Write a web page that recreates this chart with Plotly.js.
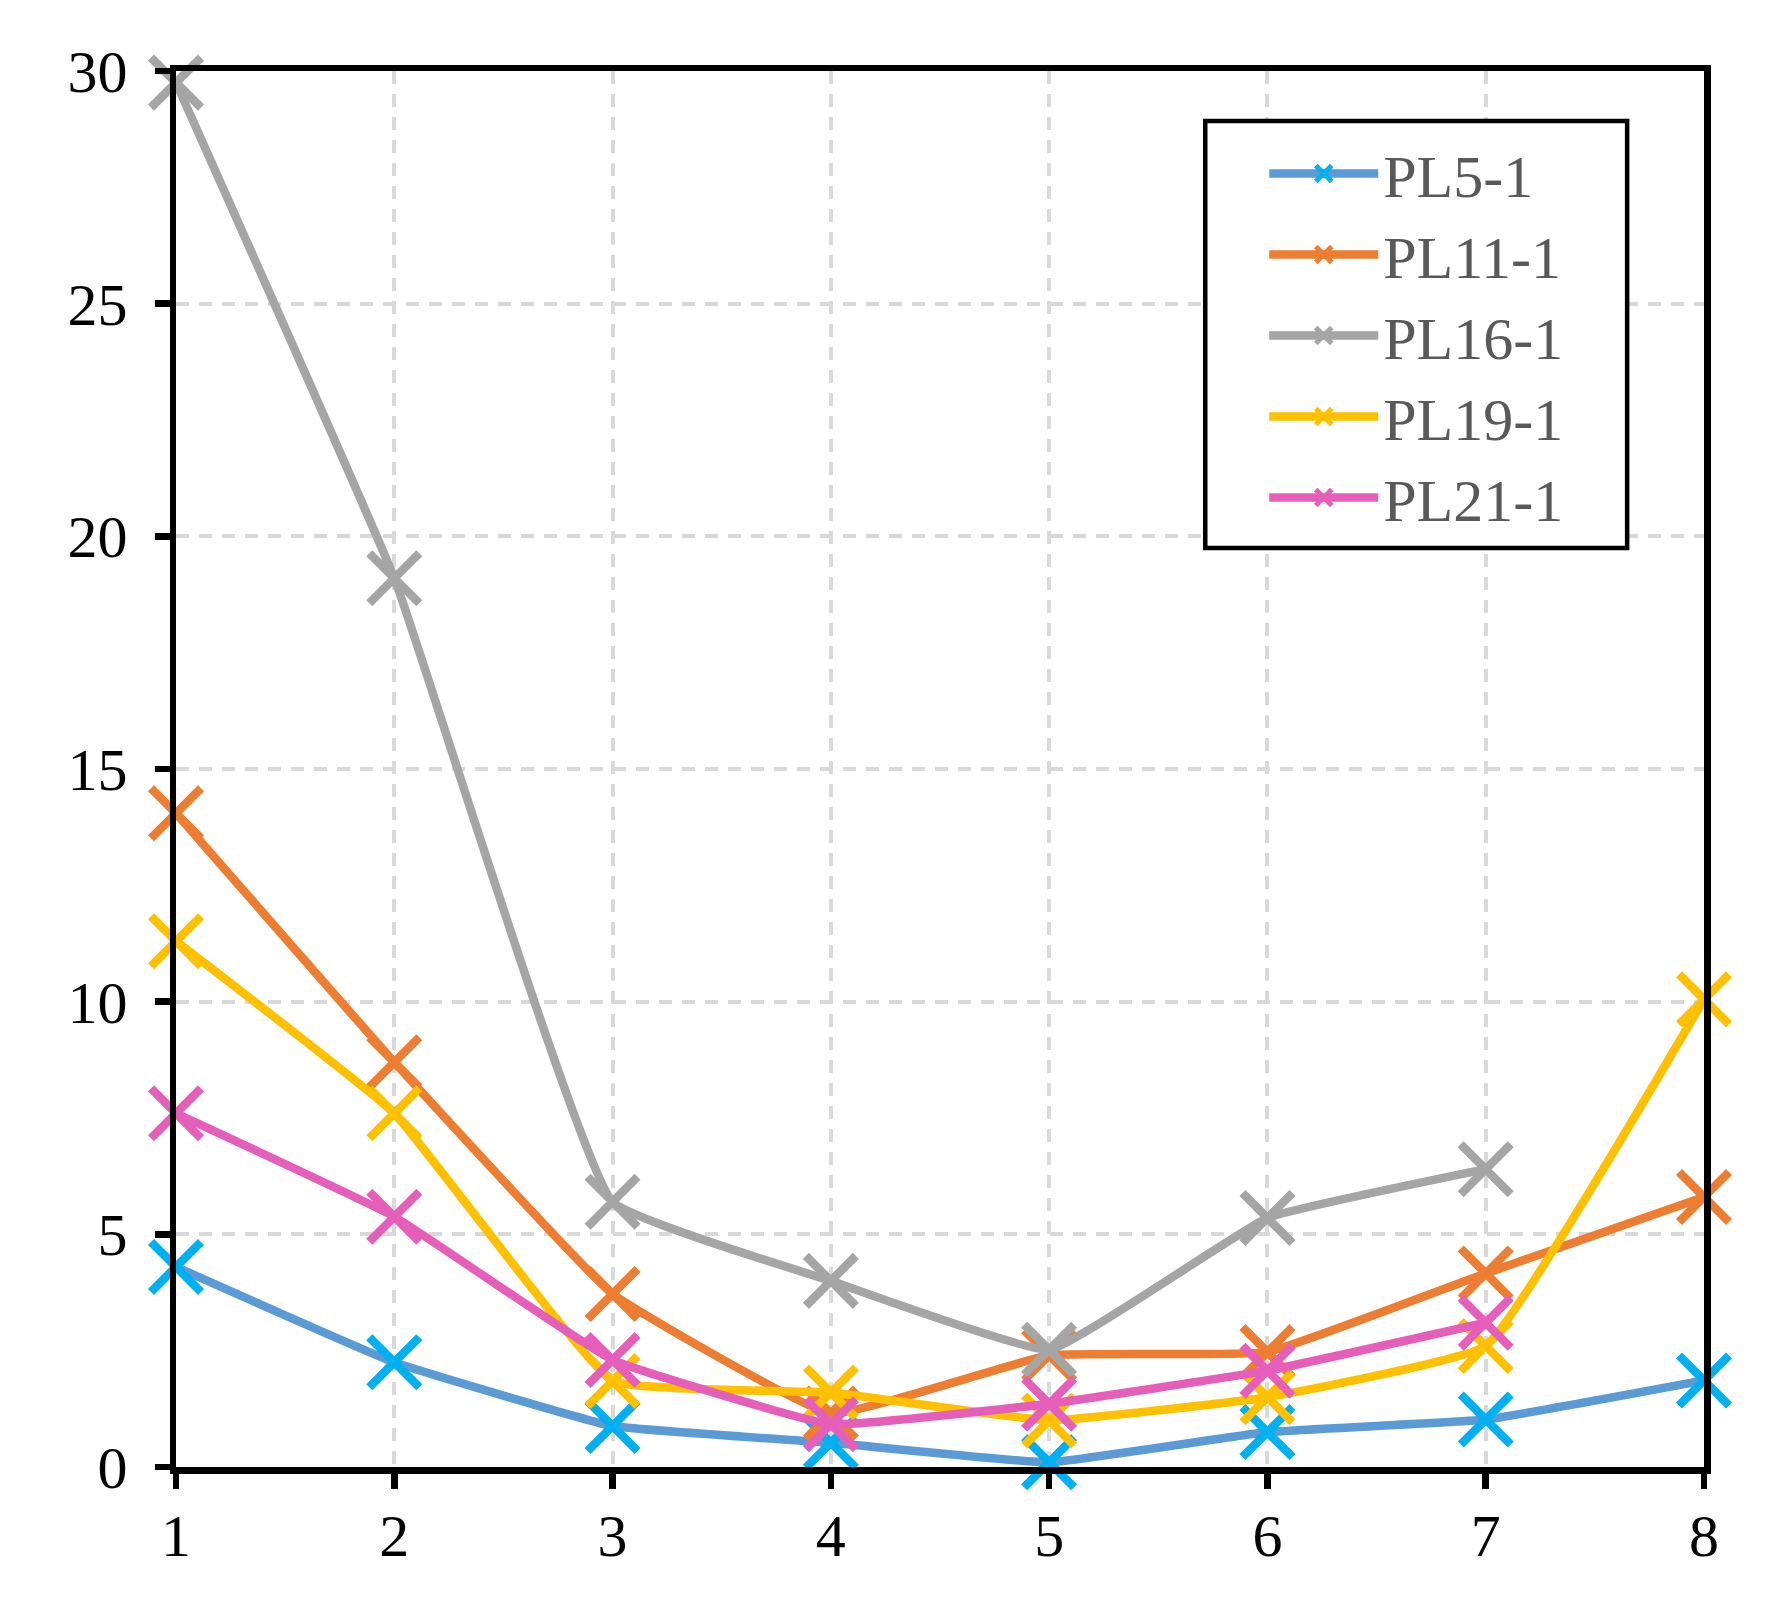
<!DOCTYPE html>
<html>
<head>
<meta charset="utf-8">
<script src="https://cdn.plot.ly/plotly-3.0.1.min.js"></script>
<style>
  html, body { margin: 0; padding: 0; background: #fff; }
  #graph { width: 1773px; height: 1602px; }
</style>
</head>
<body>
<div id="graph"></div>
<script>
const xValues = [1, 2, 3, 4, 5, 6, 7, 8]
const seriesNames = ['PL5-1', 'PL11-1', 'PL16-1', 'PL19-1', 'PL21-1']
const pl5 = [4.3, 2.25, 0.88, 0.52, 0.1, 0.75, 1.02, 1.86]
const pl11 = [14.05, 8.7, 3.72, 1.15, 2.4, 2.47, 4.16, 5.8]
const pl16 = [29.75, 19.1, 5.7, 4.0, 2.52, 5.35, 6.4, null]
const pl19 = [11.3, 7.6, 1.85, 1.6, 1.0, 1.5, 2.6, 10.05]
const pl21 = [7.6, 5.38, 2.3, 0.92, 1.36, 2.07, 3.1, null]
const yTicks = [0, 5, 10, 15, 20, 25, 30]

const lineColors = ['#5B9BD5', '#ED7D31', '#A5A5A5', '#FFC000', '#E55FBA']
const markerColors = ['#00B0F0', '#ED7D31', '#A5A5A5', '#FFC000', '#E55FBA']
const allSeries = [pl5, pl11, pl16, pl19, pl21]

const font = "'Liberation Serif', 'Times New Roman', serif"

const traces = allSeries.map(function (ys, i) {
  return {
    x: xValues,
    y: ys,
    name: seriesNames[i],
    type: 'scatter',
    mode: 'lines+markers',
    line: { color: lineColors[i], width: 8.5, shape: 'spline', smoothing: 0.3 },
    marker: {
      symbol: 'x-thin',
      size: 50,
      color: markerColors[i],
      line: { color: markerColors[i], width: 8.5 }
    },
    cliponaxis: false
  }
})

const axisStyle = {
  showline: true,
  linecolor: '#000000',
  linewidth: 6.5,
  mirror: true,
  ticks: 'outside',
  ticklen: 15,
  tickwidth: 6.5,
  tickcolor: '#000000',
  showgrid: true,
  gridcolor: '#D9D9D9',
  gridwidth: 4,
  griddash: '13px,10px',
  zeroline: false,
  tickfont: { family: font, size: 60, color: '#000000' }
}

const layout = {
  width: 1773,
  height: 1602,
  margin: { l: 176, r: 69, t: 71, b: 135 },
  paper_bgcolor: '#ffffff',
  plot_bgcolor: '#ffffff',
  font: { family: font, size: 60, color: '#000000' },
  showlegend: true,
  legend: {
    x: 0.7122,
    y: 0.9592,
    xanchor: 'left',
    yanchor: 'top',
    bgcolor: 'rgba(0,0,0,0)',
    borderwidth: 0,
    font: { family: font, size: 60, color: '#595959' },
    itemwidth: 109,
    itemsizing: 'trace'
  },
  // legend frame
  shapes: [
    {
      type: 'rect',
      xref: 'paper',
      yref: 'paper',
      x0: 0.6736,
      x1: 0.9497,
      y0: 0.6583,
      y1: 0.9642,
      fillcolor: '#ffffff',
      line: { color: '#000000', width: 4.5 },
      layer: 'above'
    }
  ],
  xaxis: Object.assign({}, axisStyle, {
    range: [1, 8],
    tickvals: xValues,
    ticktext: xValues.map(String),
    ticklabelstandoff: -5
  }),
  yaxis: Object.assign({}, axisStyle, {
    range: [0, 30],
    tickvals: yTicks,
    ticklabelstandoff: 15
  })
}

Plotly.newPlot('graph', traces, layout, { staticPlot: true, displayModeBar: false })
</script>
</body>
</html>
